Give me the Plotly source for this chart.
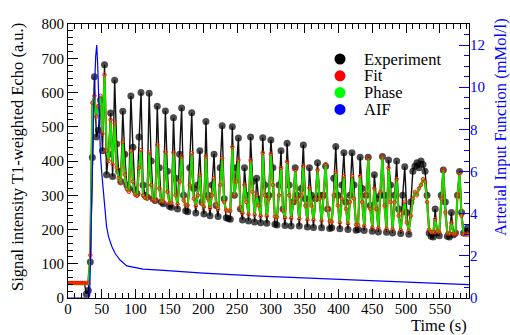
import plotly.graph_objects as go

# ---------------- data ----------------
time_s = list(range(0, 594, 3))          # sampling grid (s), 0..591

exp_pre_vals = [47, 47, 47, 47, 47, 47, 47, 47, 47]   # t = 0..24 (baseline, no markers)
exp_vals = [                                          # t = 27..591
    12, 22, 105, 410, 646, 470, 490, 578, 430, 681,
    360, 420, 540, 355, 636, 450, 370, 340, 545, 420,
    330, 320, 590, 440, 315, 305, 470, 600, 330, 300,
    295, 598, 400, 290, 285, 560, 380, 280, 275, 546,
    370, 268, 265, 526, 350, 260, 420, 555, 300, 255,
    252, 380, 541, 320, 248, 330, 430, 280, 245, 515,
    300, 240, 330, 420, 270, 238, 380, 503, 290, 234,
    232, 230, 500, 300, 380, 467, 260, 228, 380, 300,
    225, 470, 340, 222, 350, 290, 220, 468, 330, 218,
    300, 461, 380, 215, 213, 330, 430, 260, 212, 452,
    330, 210, 280, 380, 300, 210, 320, 447, 290, 207,
    380, 300, 206, 290, 395, 300, 205, 300, 385, 260,
    203, 205, 350, 442, 300, 202, 330, 424, 280, 200,
    300, 424, 330, 198, 200, 411, 320, 197, 300, 411,
    270, 195, 360, 290, 193, 300, 413, 300, 192, 403,
    330, 190, 300, 400, 260, 188, 300, 383, 250, 186,
    280, 370, 385, 395, 380, 400, 390, 370, 300, 190,
    180, 178, 260, 190, 182, 300, 374, 280, 180, 178,
    250, 185, 190, 300, 369, 250, 190, 195, 205,
]

fit_vals = [                                          # t = 0..591
    44, 44, 44, 44, 44, 44, 44, 44, 44, 44,
    44, 125, 570, 590, 530, 560, 590, 480, 652, 430,
    400, 520, 390, 510, 380, 350, 335, 456, 360, 318,
    310, 430, 340, 302, 298, 380, 432, 300, 292, 290,
    425, 330, 287, 285, 447, 320, 282, 281, 427, 310,
    278, 277, 425, 300, 275, 340, 413, 285, 272, 271,
    330, 423, 290, 269, 300, 360, 275, 266, 413, 290,
    263, 300, 350, 272, 260, 330, 408, 280, 256, 255,
    254, 441, 300, 340, 403, 265, 248, 330, 280, 244,
    402, 310, 243, 300, 270, 240, 424, 300, 239, 290,
    421, 330, 237, 236, 300, 380, 255, 234, 398, 300,
    233, 280, 374, 290, 231, 300, 385, 270, 229, 321,
    270, 228, 290, 374, 290, 226, 300, 391, 260, 224,
    223, 300, 369, 270, 220, 290, 356, 260, 217, 280,
    356, 290, 214, 213, 356, 280, 211, 300, 408, 260,
    206, 320, 260, 204, 310, 413, 270, 202, 380, 280,
    200, 280, 347, 240, 199, 250, 281, 220, 197, 240,
    290, 310, 300, 320, 330, 347, 340, 280, 200, 193,
    192, 230, 195, 191, 290, 374, 250, 189, 188, 220,
    187, 187, 300, 365, 240, 186, 185, 185,
]

phase_vals = [                                        # t = 0..591
    40, 40, 40, 40, 40, 40, 40, 40, 40, 40,
    40, 120, 570, 590, 530, 562, 590, 482, 650, 432,
    400, 520, 392, 510, 380, 350, 335, 456, 360, 318,
    310, 430, 340, 302, 298, 380, 432, 300, 292, 290,
    425, 330, 287, 285, 447, 320, 282, 281, 427, 310,
    278, 277, 425, 300, 275, 340, 413, 285, 272, 271,
    330, 423, 290, 269, 300, 360, 275, 266, 413, 290,
    263, 300, 350, 272, 260, 330, 408, 280, 256, 255,
    254, 441, 300, 340, 403, 265, 248, 330, 280, 244,
    402, 310, 243, 300, 270, 240, 424, 300, 239, 290,
    421, 330, 237, 236, 300, 380, 255, 234, 398, 300,
    233, 280, 374, 290, 231, 300, 385, 270, 229, 321,
    270, 228, 290, 374, 290, 226, 300, 391, 260, 224,
    223, 300, 369, 270, 220, 290, 356, 260, 217, 280,
    356, 290, 214, 213, 356, 280, 211, 300, 408, 260,
    206, 320, 260, 204, 310, 413, 270, 202, 380, 280,
    200, 280, 347, 240, 199, 250, 281, 220, 197, 240,
    290, 310, 300, 320, 330, 347, 340, 280, 200, 193,
    192, 230, 195, 191, 290, 374, 250, 189, 188, 220,
    187, 187, 300, 365, 240, 186, 185, 185,
]

aif_time = [0, 27, 30, 32, 35, 38, 41, 42.5, 44, 46, 48, 50, 52, 55, 57, 60, 65, 70,
            77, 87, 100, 111, 136, 200, 284, 350, 400, 450, 500, 550, 593]
aif_vals = [0, 0, 0, 0.1, 4.6, 9.0, 11.5, 12.0, 11.0, 8.6, 6.8, 5.9, 5.2, 4.0, 3.4, 2.9,
            2.43, 2.1, 1.80, 1.52, 1.43, 1.37, 1.32, 1.18, 1.04, 0.95, 0.88, 0.80,
            0.74, 0.68, 0.63]

legend_labels = ["Experiment", "Fit", "Phase", "AIF"]
legend_colors = ["#000000", "#ff0000", "#00ff00", "#0000ff"]

assert len(exp_pre_vals) + len(exp_vals) == len(time_s)
assert len(fit_vals) == len(time_s) and len(phase_vals) == len(time_s)
assert len(aif_time) == len(aif_vals)

# ---------------- figure ----------------
W, H = 510, 335
L, R, T, B = 68, 41, 24, 37
PW, PH = W - L - R, H - T - B
SERIF = "Times New Roman, Liberation Serif, Tinos, serif"


def px_x(px):
    return (px - L) / PW


def px_y(py):
    return (H - B - py) / PH


exp_sizes = [0] * len(exp_pre_vals) + [7] * len(exp_vals)

fig = go.Figure()
fig.add_trace(go.Scatter(
    x=time_s, y=exp_pre_vals + exp_vals, mode="lines+markers",
    line=dict(color="#111111", width=1.4),
    marker=dict(color="black", size=exp_sizes, line=dict(width=0)),
    showlegend=False, hoverinfo="skip"))
fig.add_trace(go.Scatter(
    x=time_s, y=fit_vals, mode="lines",
    line=dict(color="#ff0000", width=2.2),
    showlegend=False, hoverinfo="skip"))
fig.add_trace(go.Scatter(
    x=time_s, y=phase_vals, mode="lines",
    line=dict(color="#00ee00", width=1.8),
    showlegend=False, hoverinfo="skip"))
fig.add_trace(go.Scatter(
    x=time_s, y=fit_vals, mode="markers",
    marker=dict(symbol="circle-open", color="#ff2000", size=3.5, line=dict(width=1)),
    showlegend=False, hoverinfo="skip"))
fig.add_trace(go.Scatter(
    x=aif_time, y=aif_vals, mode="lines", yaxis="y2",
    line=dict(color="#0000ff", width=1.2),
    showlegend=False, hoverinfo="skip"))

# legend (drawn manually to match the compact ROOT legend)
shapes = []
annotations = []
for i, (lab, col) in enumerate(zip(legend_labels, legend_colors)):
    cy = 59 + i * 16.8
    shapes.append(dict(type="circle", xref="paper", yref="paper",
                       xsizemode="pixel", ysizemode="pixel",
                       xanchor=px_x(340), yanchor=px_y(cy),
                       x0=-5.5, x1=5.5, y0=-5.5, y1=5.5,
                       fillcolor=col, line=dict(color=col, width=0)))
    annotations.append(dict(text=lab, xref="paper", yref="paper",
                            x=px_x(362), y=px_y(cy), xanchor="left", yanchor="middle",
                            showarrow=False, font=dict(family=SERIF, size=16.5, color="black")))

annotations.append(dict(text="Time (s)", xref="paper", yref="paper",
                        x=px_x(469), y=px_y(325), xanchor="right", yanchor="middle",
                        showarrow=False, font=dict(family=SERIF, size=16.5, color="black")))
annotations.append(dict(text="Signal intensity T1-weighted Echo (a.u.)", xref="paper", yref="paper",
                        x=px_x(17), y=px_y(157), xanchor="center", yanchor="middle",
                        textangle=-90, showarrow=False,
                        font=dict(family=SERIF, size=16.5, color="black")))
annotations.append(dict(text="Arterial Input Function (mMol/l)", xref="paper", yref="paper",
                        x=px_x(500), y=px_y(127), xanchor="center", yanchor="middle",
                        textangle=-90, showarrow=False,
                        font=dict(family=SERIF, size=16.5, color="#0000ff")))

fig.update_layout(
    width=W, height=H,
    margin=dict(l=L, r=R, t=T, b=B, pad=0),
    paper_bgcolor="white", plot_bgcolor="white",
    font=dict(family=SERIF, size=15, color="black"),
    showlegend=False,
    shapes=shapes, annotations=annotations,
    xaxis=dict(range=[0, 593], tick0=0, dtick=50, ticks="inside", ticklen=9,
               tickcolor="black", tickwidth=1, showline=True, linecolor="black",
               linewidth=1, mirror="ticks", showgrid=False, zeroline=False,
               ticklabelstandoff=-3,
               minor=dict(dtick=10, ticks="inside", ticklen=5, tickcolor="black"),
               tickfont=dict(family=SERIF, size=15, color="black")),
    yaxis=dict(range=[0, 800], tick0=0, dtick=100, ticks="inside", ticklen=10,
               tickcolor="black", showline=True, linecolor="black", linewidth=1,
               mirror=True, showgrid=False, zeroline=False,
               minor=dict(dtick=20, ticks="inside", ticklen=5, tickcolor="black"),
               tickfont=dict(family=SERIF, size=15, color="black")),
    yaxis2=dict(range=[0, 13], tick0=0, dtick=2, overlaying="y", side="right",
                ticks="inside", ticklen=10, tickcolor="#0000ff", showline=False,
                showgrid=False, zeroline=False,
                minor=dict(dtick=0.5, ticks="inside", ticklen=5, tickcolor="#0000ff"),
                tickfont=dict(family=SERIF, size=15, color="#0000ff")),
)

fig.write_html("out.html", config={"displayModeBar": False},
               post_script="document.body.style.margin='0';document.body.style.padding='0';"
                           "document.body.style.overflow='hidden';")
